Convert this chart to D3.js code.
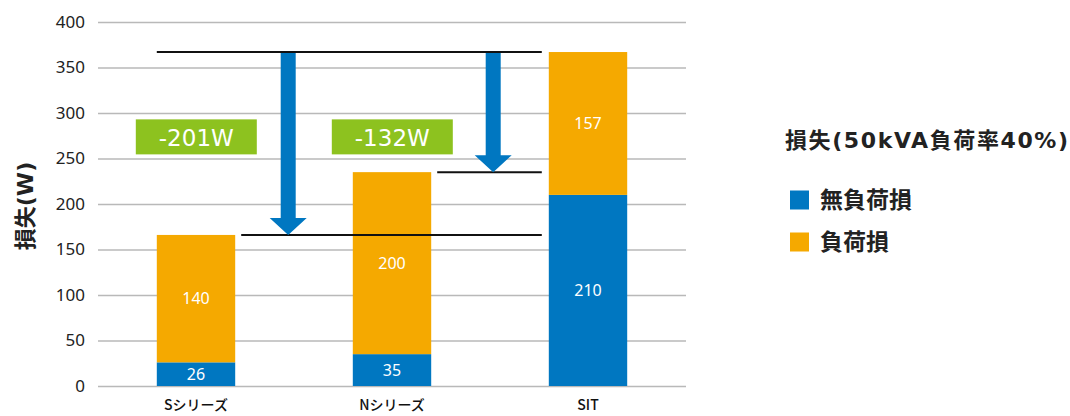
<!DOCTYPE html>
<html>
<head>
  <meta charset="utf-8">
  <title>損失比較</title>
  <style>
    body{ margin:0; padding:0; background:#fff; }
    svg{ display:block; font-family:"DejaVu Sans","Noto Sans CJK JP",sans-serif; }
    .grid line{ stroke:#b9b9b9; stroke-width:1.5; }
    .grid .domain{ display:none; }
    .ref{ stroke:#111; stroke-width:2; }
  </style>
</head>
<body>
<svg class="chart" width="1070" height="416"></svg>
<script src="https://d3js.org/d3.v7.min.js"></script>
<script>

var categories = ["Sシリーズ", "Nシリーズ", "SIT"];
var noLoad = [26, 35, 210];      // 無負荷損
var load = [140, 200, 157];      // 負荷損
var yTicks = [0, 50, 100, 150, 200, 250, 300, 350, 400];
var diffs = ["-201W", "-132W"];
var seriesNames = ["無負荷損", "負荷損"];
var colors = ["#0077c1", "#f5a900"];

var margin = {top: 22, right: 384, bottom: 30, left: 98},
    width = 1070 - margin.left - margin.right,
    height = 416 - margin.top - margin.bottom;

var svg = d3.select(".chart")
  .append("g")
  .attr("transform", "translate(" + margin.left + "," + margin.top + ")");

var x = d3.scaleBand().domain(categories).range([0, width])
  .paddingInner(0.6).paddingOuter(0.3);
var y = d3.scaleLinear().domain([0, 400]).range([height, 0]);

// grid + y labels
var gy = svg.append("g").attr("class", "grid")
  .call(d3.axisLeft(y).tickValues(yTicks).tickSize(-width).tickPadding(13));
gy.selectAll("text").attr("font-family", "Noto Sans").attr("font-size", 17).attr("fill", "#222");

// x labels
var gx = svg.append("g").attr("transform", "translate(0," + height + ")")
  .call(d3.axisBottom(x).tickSize(0).tickPadding(14));
gx.select(".domain").remove();
gx.selectAll("text").attr("font-family", "Noto Sans CJK JP")
  .attr("font-size", 14).attr("font-weight", 500).attr("fill", "#111");

// stacked bars
var rows = categories.map(function(c, i) { return {cat: c, noLoad: noLoad[i], load: load[i]}; });
var stack = d3.stack().keys(["noLoad", "load"])(rows);

stack.forEach(function(layer, k) {
  var g = svg.append("g");
  g.selectAll("rect").data(layer).enter().append("rect")
    .attr("x", function(d) { return x(d.data.cat); })
    .attr("width", x.bandwidth())
    .attr("y", function(d) { return y(d[1]); })
    .attr("height", function(d) { return y(d[0]) - y(d[1]); })
    .attr("fill", colors[k]);
  g.selectAll("text").data(layer).enter().append("text")
    .attr("x", function(d) { return x(d.data.cat) + x.bandwidth() / 2; })
    .attr("y", function(d) { return (y(d[0]) + y(d[1])) / 2; })
    .attr("dy", "0.35em")
    .attr("text-anchor", "middle")
    .attr("fill", "#fff")
    .attr("font-family", "Noto Sans")
    .attr("font-size", 16)
    .text(function(d) { return d[1] - d[0]; });
});

var totals = rows.map(function(r) { return r.noLoad + r.load; });
var refEnd = x(categories[2]) - 7;

// reference lines
svg.append("line").attr("class", "ref")
  .attr("x1", x(categories[0])).attr("x2", refEnd)
  .attr("y1", y(totals[2])).attr("y2", y(totals[2]));
svg.append("line").attr("class", "ref")
  .attr("x1", x(categories[0]) + x.bandwidth() + 6).attr("x2", refEnd)
  .attr("y1", y(totals[0])).attr("y2", y(totals[0]));
svg.append("line").attr("class", "ref")
  .attr("x1", x(categories[1]) + x.bandwidth() + 6).attr("x2", refEnd)
  .attr("y1", y(totals[1])).attr("y2", y(totals[1]));

// arrows
function arrow(cx, yTop, yTip) {
  var sw = 7.5, hw = 18.5, hh = 17;
  var p = d3.path();
  p.moveTo(cx - sw, yTop); p.lineTo(cx + sw, yTop);
  p.lineTo(cx + sw, yTip - hh); p.lineTo(cx + hw, yTip - hh);
  p.lineTo(cx, yTip); p.lineTo(cx - hw, yTip - hh);
  p.lineTo(cx - sw, yTip - hh); p.closePath();
  svg.append("path").attr("d", p.toString()).attr("fill", colors[0]);
}
arrow(x(categories[0]) + x.bandwidth() + 53, y(totals[2]) + 1, y(totals[0]));
arrow(x(categories[1]) + x.bandwidth() + 62, y(totals[2]) + 1, y(totals[1]));

// difference badges
diffs.forEach(function(t, i) {
  var bx = x(categories[i]) - 21, by = y(293);
  svg.append("rect").attr("x", bx).attr("y", by).attr("width", 121).attr("height", 35)
    .attr("fill", "#8dc21f");
  svg.append("text").attr("x", bx + 60.5).attr("y", by + 18).attr("dy", "0.36em")
    .attr("text-anchor", "middle").attr("fill", "#fff").attr("font-size", 23)
    .text(t);
});

// y axis title
d3.select(".chart").append("text")
  .attr("transform", "translate(25,206) rotate(-90)")
  .attr("text-anchor", "middle").attr("dy", "0.35em")
  .attr("font-size", 22).attr("font-weight", "bold").attr("fill", "#222")
  .text("損失(W)");

// legend
var leg = d3.select(".chart").append("g").attr("transform", "translate(785,0)");
leg.append("text").attr("x", 0).attr("y", 140).attr("dy", "0.36em")
  .attr("font-size", 22).attr("font-weight", "bold").attr("fill", "#222")
  .attr("textLength", 283).attr("lengthAdjust", "spacing")
  .text("損失(50kVA負荷率40%)");
seriesNames.forEach(function(n, i) {
  var ly = 200 + i * 42;
  leg.append("rect").attr("x", 5).attr("y", ly - 9.5).attr("width", 19).attr("height", 19)
    .attr("fill", colors[i]);
  leg.append("text").attr("x", 35).attr("y", ly).attr("dy", "0.36em")
    .attr("font-size", 23).attr("font-weight", "bold").attr("fill", "#222")
    .text(n);
});

</script>
</body>
</html>
